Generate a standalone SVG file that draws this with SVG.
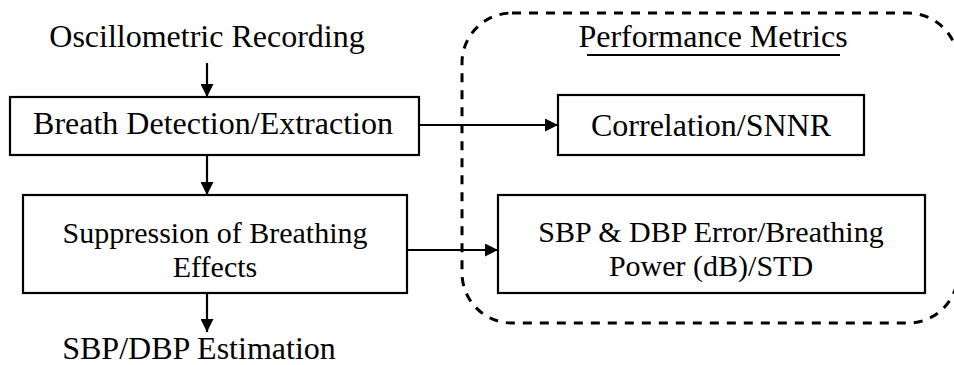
<svg xmlns="http://www.w3.org/2000/svg" width="954" height="365" viewBox="0 0 954 365">
<defs>
<style>
text{font-family:"Liberation Serif","Times New Roman",serif;font-size:32px;fill:#000;text-anchor:middle}
text.two{font-size:30px}
.box{fill:#fff;stroke:#000;stroke-width:2.2}
.con{fill:none;stroke:#000;stroke-width:2.2}
.dash{fill:none;stroke:#000;stroke-width:3;stroke-dasharray:9 8}
</style>
<marker id="ah" viewBox="0 0 12 12" refX="12" refY="6" markerWidth="13" markerHeight="13" markerUnits="userSpaceOnUse" orient="auto">
<path d="M0,0 L12,6 L0,12 Z" fill="#000"/>
</marker>
</defs>
<rect width="954" height="365" fill="#fff"/>
<g id="metrics-group">
<rect class="dash" x="462" y="13" width="496" height="310" rx="50" ry="50"/>
<text x="713" y="47">Performance Metrics</text>
<line x1="587" y1="55" x2="840" y2="55" stroke="#000" stroke-width="2"/>
</g>
<g id="connectors">
<line class="con" x1="207" y1="63" x2="207" y2="97" marker-end="url(#ah)"/>
<line class="con" x1="207" y1="155" x2="207" y2="195" marker-end="url(#ah)"/>
<line class="con" x1="207" y1="293" x2="207" y2="332" marker-end="url(#ah)"/>
<line class="con" x1="419" y1="125" x2="558" y2="125" marker-end="url(#ah)"/>
<line class="con" x1="407" y1="250" x2="498" y2="250" marker-end="url(#ah)"/>
</g>
<g id="input">
<text x="207" y="47">Oscillometric Recording</text>
</g>
<g id="breath-detection">
<rect class="box" x="10" y="97" width="409" height="58"/>
<text x="213" y="134">Breath Detection/Extraction</text>
</g>
<g id="suppression">
<rect class="box" x="23" y="195" width="384" height="98"/>
<text class="two" x="215" y="243">Suppression of Breathing</text>
<text class="two" x="215" y="277">Effects</text>
</g>
<g id="output">
<text x="199" y="359">SBP/DBP Estimation</text>
</g>
<g id="correlation">
<rect class="box" x="558" y="95" width="306" height="60"/>
<text x="711" y="136">Correlation/SNNR</text>
</g>
<g id="error-metrics">
<rect class="box" x="498" y="195" width="427" height="98"/>
<text class="two" x="711" y="242">SBP &amp; DBP Error/Breathing</text>
<text class="two" x="711" y="276">Power (dB)/STD</text>
</g>
</svg>
